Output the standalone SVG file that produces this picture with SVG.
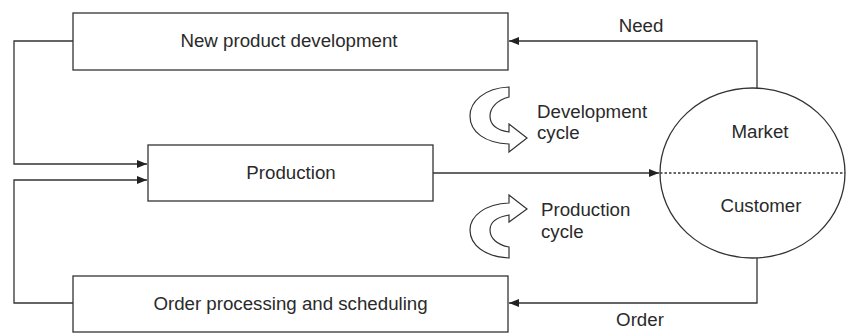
<svg xmlns="http://www.w3.org/2000/svg" width="846" height="333" viewBox="0 0 846 333">
<style>
.box{fill:#fff;stroke:#333;stroke-width:1.3}
.con{fill:none;stroke:#333;stroke-width:1.3}
.cyc{fill:#fff;stroke:#333;stroke-width:1.2}
text{font-family:"Liberation Sans",Arial,sans-serif;font-size:18.7px;fill:#2a2a2a}
.c{text-anchor:middle}
</style>
<defs>
<marker id="ah" viewBox="0 0 10 8" refX="10" refY="4" markerWidth="10" markerHeight="8" markerUnits="userSpaceOnUse" orient="auto">
<path d="M0,0 L10,4 L0,8 Z" fill="#222"/>
</marker>
</defs>
<g id="connectors">
<path class="con" d="M73,41 H14 V164 H147" marker-end="url(#ah)"/>
<path class="con" d="M73,303 H14 V180 H147" marker-end="url(#ah)"/>
<path class="con" d="M433,173 H659" marker-end="url(#ah)"/>
<path class="con" d="M757,88 V41 H509" marker-end="url(#ah)"/>
<path class="con" d="M757,258 V303 H509" marker-end="url(#ah)"/>
<text x="641" y="32" class="c">Need</text>
<text x="640" y="326" class="c">Order</text>
</g>
<g id="new-product-development">
<rect class="box" x="73" y="13" width="435" height="57"/>
<text x="289" y="47" class="c">New product development</text>
</g>
<g id="production">
<rect class="box" x="148" y="145" width="285" height="56"/>
<text x="291" y="179" class="c">Production</text>
</g>
<g id="order-processing">
<rect class="box" x="73" y="276" width="435" height="56"/>
<text x="290.5" y="310" class="c">Order processing and scheduling</text>
</g>
<g id="market-customer">
<ellipse cx="752.5" cy="173" rx="92.5" ry="85" fill="#fff" stroke="#333" stroke-width="1.3"/>
<line x1="660" y1="173" x2="845" y2="173" stroke="#333" stroke-width="1.3" stroke-dasharray="2.5,2"/>
<text x="760" y="138" class="c">Market</text>
<text x="761" y="212" class="c">Customer</text>
</g>
<g id="development-cycle">
<path class="cyc" d="M509,87 C484,88 470,102 470,116 C470,132 485,143 509,144 L509,152 L527,138 L509,124 L509,132 C496,130 490,124 490,116 C490,108 497,100 509,97 Z"/>
<text x="537" y="118">Development</text>
<text x="537" y="139">cycle</text>
</g>
<g id="production-cycle">
<path class="cyc" d="M509,258 C485,257 470,245 470,230 C470,216 485,204 509,203 L509,195 L527,209 L509,222 L509,215 C497,217 490,222 490,230 C490,238 497,245 509,247 Z"/>
<text x="541" y="216">Production</text>
<text x="541" y="238">cycle</text>
</g>
</svg>
